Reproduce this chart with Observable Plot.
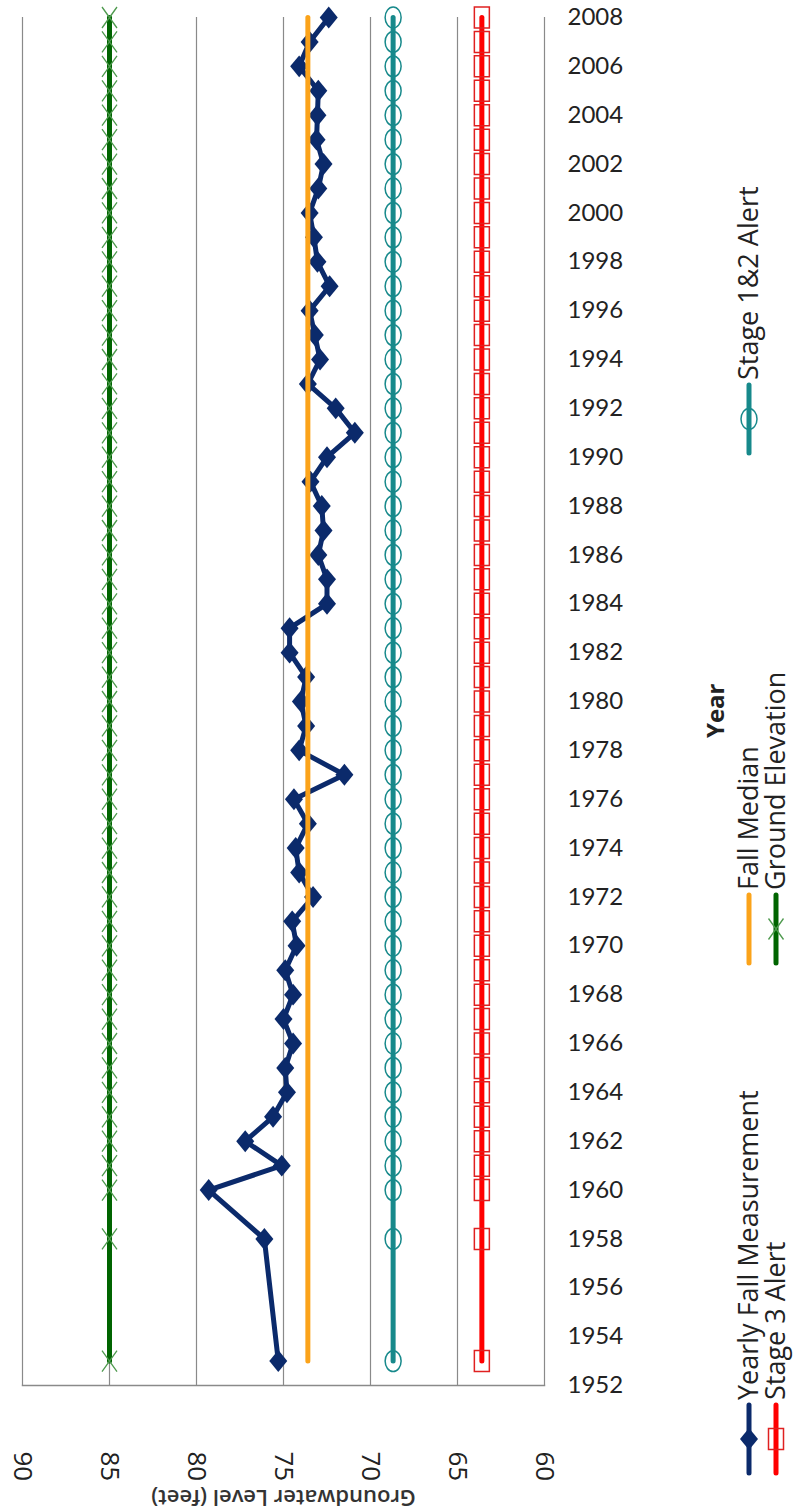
<!DOCTYPE html>
<html>
<head>
<meta charset="utf-8">
<script src="https://cdn.jsdelivr.net/npm/d3@7"></script>
<script src="https://cdn.jsdelivr.net/npm/@observablehq/plot@0.6"></script>
<style>
  html, body { margin: 0; padding: 0; background: #fff; }
  #chart { position: relative; width: 793px; height: 1512px; overflow: hidden; }
</style>
</head>
<body>
<div id="chart"></div>
<script>
// ---------- DATA ----------
const years = [1953, 1958, 1960, 1961, 1962, 1963, 1964, 1965, 1966, 1967, 1968, 1969, 1970,
  1971, 1972, 1973, 1974, 1975, 1976, 1977, 1978, 1979, 1980, 1981, 1982, 1983, 1984, 1985,
  1986, 1987, 1988, 1989, 1990, 1991, 1992, 1993, 1994, 1995, 1996, 1997, 1998, 1999, 2000,
  2001, 2002, 2003, 2004, 2005, 2006, 2007, 2008];
const fallLevels = [75.3, 76.1, 79.3, 75.1, 77.2, 75.6, 74.8, 74.9, 74.45, 75.0, 74.45, 74.9, 74.25,
  74.5, 73.3, 74.1, 74.3, 73.6, 74.4, 71.5, 74.1, 73.7, 74.0, 73.7, 74.65, 74.65, 72.5, 72.5,
  73.0, 72.7, 72.8, 73.45, 72.5, 70.9, 72.0, 73.6, 72.9, 73.2, 73.5, 72.35, 73.05, 73.25, 73.5,
  73.0, 72.7, 73.1, 73.05, 73.0, 74.1, 73.5, 72.4];
const medianYears = [1953, 2008];
const fallMedian = 73.6;
const stage12Alert = 68.7;
const stage3Alert = 63.6;
const groundElevation = 85;
const levelTicks = [90, 85, 80, 75, 70, 65, 60];
const yearTicks = [1952, 1954, 1956, 1958, 1960, 1962, 1964, 1966, 1968, 1970, 1972, 1974, 1976,
  1978, 1980, 1982, 1984, 1986, 1988, 1990, 1992, 1994, 1996, 1998, 2000, 2002, 2004, 2006, 2008];
const seriesNames = ["Yearly Fall Measurement", "Fall Median", "Stage 1&2 Alert", "Stage 3 Alert", "Ground Elevation"];

// ---------- TABLES ----------
const fallData = years.map((year, i) => ({year, level: fallLevels[i]}));
const medianData = medianYears.map(year => ({year, level: fallMedian}));
const stage12Data = years.map(year => ({year, level: stage12Alert}));
const stage3Data = years.map(year => ({year, level: stage3Alert}));
const groundData = years.map(year => ({year, level: groundElevation}));

// ---------- STYLE ----------
const C = {navy: "#0b2a6b", orange: "#fba31a", teal: "#17898b", red: "#ff0000", green: "#006400", greenLight: "#4f9a4f"};

// custom (vertically stretched) marker symbols
const sym = (drawFn) => ({draw(ctx, size) { drawFn(ctx, Math.sqrt(size / Math.PI)); }});
const diamondSym = sym((c, r) => { const h = r * 1.22; c.moveTo(0, -h); c.lineTo(r, 0); c.lineTo(0, h); c.lineTo(-r, 0); c.closePath(); });
const rectSym = sym((c, r) => { const h = r * 1.4; c.moveTo(-r, -h); c.lineTo(r, -h); c.lineTo(r, h); c.lineTo(-r, h); c.closePath(); });
const xSym = sym((c, r) => { const h = r * 1.4; c.moveTo(-r, -h); c.lineTo(r, h); c.moveTo(r, -h); c.lineTo(-r, h); });
const ellipseSym = sym((c, r) => {
  const rx = r, ry = r * 1.3, k = 0.5523;
  c.moveTo(rx, 0);
  c.bezierCurveTo(rx, ry * k, rx * k, ry, 0, ry);
  c.bezierCurveTo(-rx * k, ry, -rx, ry * k, -rx, 0);
  c.bezierCurveTo(-rx, -ry * k, -rx * k, -ry, 0, -ry);
  c.bezierCurveTo(rx * k, -ry, rx, -ry * k, rx, 0);
  c.closePath();
});

const chart = Plot.plot({
  width: 793,
  height: 1512,
  marginLeft: 22,
  marginRight: 249,
  marginTop: 17,
  marginBottom: 127,
  style: {background: "#fff", fontFamily: "'Open Sans', sans-serif", color: "#222"},
  x: {domain: [90, 60], label: null},
  y: {domain: [1952, 2008], label: null},
  marks: [
    Plot.ruleX(levelTicks, {stroke: "#8a8a8a", strokeWidth: 1.2}),
    Plot.frame({anchor: "bottom", stroke: "#8a8a8a", strokeWidth: 1.5}),
    Plot.axisX({anchor: "bottom", ticks: levelTicks, tickSize: 0, tickPadding: 66, tickRotate: 90,
      fontSize: 26, fill: "#222", label: null, tickFormat: d => String(d)}),
    Plot.axisY({anchor: "right", ticks: yearTicks, tickSize: 0, tickPadding: 23, textAnchor: "start",
      fontSize: 24, fontFamily: "Lato, sans-serif", fill: "#222", label: null, tickFormat: d => String(d)}),
    // Yearly Fall Measurement
    Plot.line(fallData, {x: "level", y: "year", stroke: C.navy, strokeWidth: 5, strokeLinejoin: "round"}),
    Plot.dot(fallData, {x: "level", y: "year", symbol: diamondSym, r: 9, fill: C.navy, stroke: "none"}),
    // Fall Median
    Plot.line(medianData, {x: "level", y: "year", stroke: C.orange, strokeWidth: 5, strokeLinecap: "round"}),
    // Stage 1&2 Alert
    Plot.line(stage12Data, {x: "level", y: "year", stroke: C.teal, strokeWidth: 5, strokeLinecap: "round"}),
    Plot.dot(stage12Data, {x: "level", y: "year", symbol: ellipseSym, r: 8, fill: "none", stroke: C.teal, strokeWidth: 1.5}),
    // Stage 3 Alert
    Plot.line(stage3Data, {x: "level", y: "year", stroke: C.red, strokeWidth: 5, strokeLinecap: "round"}),
    Plot.dot(stage3Data, {x: "level", y: "year", symbol: rectSym, r: 7.5, fill: "none", stroke: "#e02020", strokeWidth: 1.5}),
    // Ground Elevation
    Plot.line(groundData, {x: "level", y: "year", stroke: C.green, strokeWidth: 5}),
    Plot.dot(groundData, {x: "level", y: "year", symbol: xSym, r: 7.5, fill: "none", stroke: C.greenLight, strokeWidth: 1.3}),
    // axis titles
    Plot.text(["Groundwater Level (feet)"], {frameAnchor: "bottom", dy: 104, rotate: 180, fontSize: 22,
      fontWeight: 600, fill: "#333", text: d => d}),
    Plot.text(["Year"], {frameAnchor: "right", dx: 172, dy: -18, rotate: -90, fontSize: 24,
      fontWeight: "bold", fill: "#222", text: d => d})
  ]
});
document.getElementById("chart").appendChild(chart);

// ---------- LEGEND (rotated, to the right) ----------
const legendColors = [C.navy, C.orange, C.teal, C.red, C.green];
const legendSymbols = [diamondSym, null, ellipseSym, rectSym, xSym];
const legendSymbolStyle = [
  {fill: C.navy, stroke: "none", r: 9},
  null,
  {fill: "none", stroke: C.teal, r: 8, sw: 1.5},
  {fill: "none", stroke: "#e02020", r: 7.5, sw: 1.5},
  {fill: "none", stroke: C.greenLight, r: 7.5, sw: 1.3}
];
const colStart = [1473, 963, 453];
const rowX = [749, 776];
const svg = d3.select(chart);
const lg = svg.append("g").attr("font-family", "'Open Sans', sans-serif").attr("font-size", 27)
  .attr("fill", "#222").attr("text-anchor", "start");
seriesNames.forEach((name, i) => {
  const col = i % 3, row = Math.floor(i / 3);
  const x = rowX[row], y0 = colStart[col];
  const g = lg.append("g");
  g.append("line").attr("x1", x).attr("x2", x).attr("y1", y0).attr("y2", y0 - 68)
    .attr("stroke", legendColors[i]).attr("stroke-width", 5).attr("stroke-linecap", "round");
  if (legendSymbols[i]) {
    const s = legendSymbolStyle[i];
    g.append("path").attr("transform", `translate(${x},${y0 - 34})`)
      .attr("d", d3.symbol(legendSymbols[i], s.r * s.r * Math.PI)())
      .attr("fill", s.fill).attr("stroke", s.stroke).attr("stroke-width", s.sw || 0);
  }
  g.append("text").attr("transform", `translate(${x},${y0 - 73}) rotate(-90)`)
    .attr("text-anchor", "start").attr("dy", "0.35em").text(name);
});
</script>
</body>
</html>
